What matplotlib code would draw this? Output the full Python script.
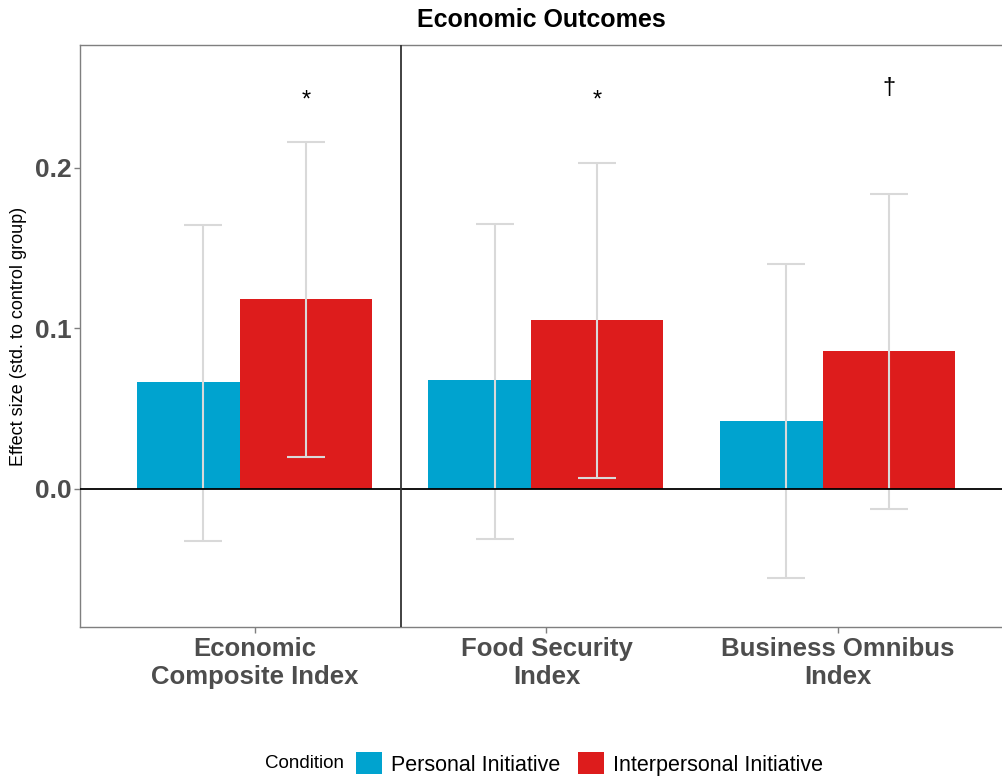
import numpy as np
import matplotlib.pyplot as plt
from matplotlib.patches import Patch

plt.rcParams['font.family'] = ['Liberation Sans', 'DejaVu Sans']

# --- data ---
categories = ['Economic\nComposite Index', 'Food Security\nIndex', 'Business Omnibus\nIndex']
personal = [0.0667, 0.068, 0.0424]
personal_lo = [-0.0324, -0.031, -0.0555]
personal_hi = [0.1645, 0.165, 0.140]
interpersonal = [0.1184, 0.105, 0.086]
inter_lo = [0.020, 0.007, -0.0125]
inter_hi = [0.2162, 0.203, 0.184]
signif = ['*', '*', '\u2020']

blue = '#00A3CF'
red = '#DD1C1C'
grey_txt = '#4d4d4d'

x = np.arange(len(categories))

fig = plt.figure(figsize=(10.03, 7.78), dpi=100)
ax = fig.add_axes([80/1003, 151/778, 1 - 80/1003, 582/778])

# bars (blue narrower, red wider, as in the reference)
ax.bar(x - 0.405, personal, width=0.354, align='edge', color=blue, zorder=2)
ax.bar(x - 0.052, interpersonal, width=0.453, align='edge', color=red, zorder=2)

# error bars
ex_b = x - 0.178
ex_r = x + 0.175
ax.errorbar(ex_b, personal,
            yerr=[np.array(personal) - np.array(personal_lo), np.array(personal_hi) - np.array(personal)],
            fmt='none', ecolor='#d9d9d9', elinewidth=1.5, capsize=14, capthick=1.5, zorder=3)
ax.errorbar(ex_r, interpersonal,
            yerr=[np.array(interpersonal) - np.array(inter_lo), np.array(inter_hi) - np.array(interpersonal)],
            fmt='none', ecolor='#d9d9d9', elinewidth=1.5, capsize=14, capthick=1.5, zorder=3)

# significance markers
for xi, s in zip(ex_r, signif):
    y = 0.25 if s == '\u2020' else 0.242
    ax.text(xi, y, s, ha='center', va='center', fontsize=17, color='black')

ax.axhline(0, color='black', lw=1.3, zorder=4)
ax.axvline(0.5, color='#333333', lw=1.3, zorder=4)

ax.set_xlim(-0.6, 2.566)
ax.set_ylim(-0.086, 0.2766)
ax.set_yticks([0.0, 0.1, 0.2])
ax.set_yticklabels(['0.0', '0.1', '0.2'], fontsize=19, fontweight='bold', color=grey_txt)
ax.set_xticks(x)
ax.set_xticklabels(categories, fontsize=18.5, fontweight='bold', color=grey_txt, linespacing=1.25)
ax.tick_params(axis='both', colors='#7f7f7f', length=4, width=1)
ax.tick_params(axis='y', labelcolor=grey_txt, pad=2)
ax.tick_params(axis='x', labelcolor=grey_txt, pad=3)
ax.set_ylabel('Effect size (std. to control group)', fontsize=13, color='black', labelpad=6)

for side in ['left', 'bottom', 'top']:
    ax.spines[side].set_color('#7f7f7f')
    ax.spines[side].set_linewidth(1)
ax.spines['right'].set_visible(False)

fig.text(541/1003, 1 - 20/778, 'Economic Outcomes', ha='center', va='center',
         fontsize=18, fontweight='bold', color='black')

# legend
fig.text(305/1003, 1 - 764/778, 'Condition', ha='center', va='center', fontsize=13.5)
handles = [Patch(facecolor=blue), Patch(facecolor=red)]
fig.legend(handles, ['Personal Initiative', 'Interpersonal Initiative'], ncol=2,
           loc='center left', bbox_to_anchor=(345/1003, 1 - 764/778), frameon=False,
           fontsize=15.5, handlelength=1.2, handleheight=1.2, handletextpad=0.45,
           columnspacing=0.8, borderpad=0)

fig.savefig('out.png', dpi=100)
